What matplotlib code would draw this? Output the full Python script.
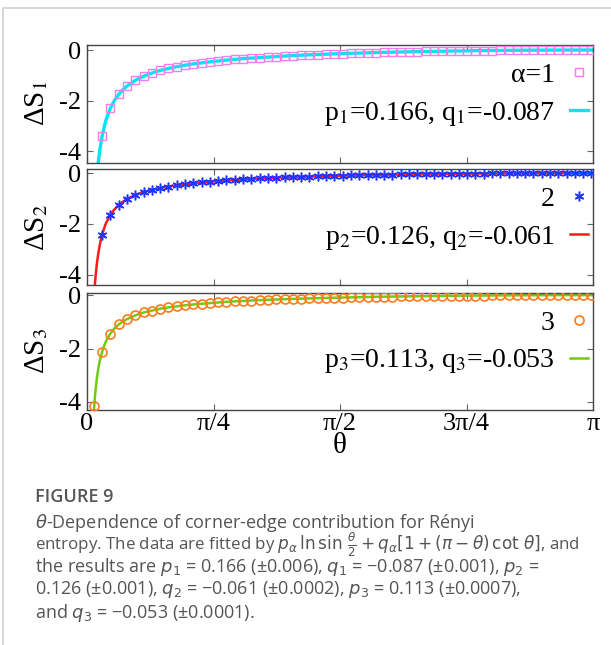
import matplotlib
matplotlib.use("Agg")
import matplotlib.pyplot as plt
import numpy as np
from matplotlib.patches import Rectangle

plt.rcParams['font.family'] = ['Liberation Serif', 'DejaVu Serif']
plt.rcParams['mathtext.fontset'] = 'stix'
plt.rcParams['axes.unicode_minus'] = False

# data points
theta = [0.042, 0.094, 0.145, 0.197, 0.248, 0.300, 0.351, 0.403, 0.454, 0.506,
         0.557, 0.609, 0.660, 0.712, 0.763, 0.815, 0.866, 0.918, 0.969, 1.021,
         1.072, 1.124, 1.175, 1.227, 1.278, 1.330, 1.381, 1.433, 1.484, 1.536,
         1.587, 1.639, 1.690, 1.742, 1.793, 1.845, 1.896, 1.948, 1.999, 2.051,
         2.102, 2.154, 2.205, 2.257, 2.308, 2.360, 2.411, 2.463, 2.514, 2.566,
         2.617, 2.669, 2.720, 2.772, 2.823, 2.875, 2.926, 2.978, 3.029, 3.081,
         3.132]

# alpha = 1 (first point off scale)
s1 = [-3.42, -2.31, -1.76, -1.43, -1.20, -1.04, -0.91, -0.81, -0.73, -0.66,
      -0.60, -0.55, -0.51, -0.47, -0.43, -0.40, -0.37, -0.34, -0.32, -0.30,
      -0.28, -0.26, -0.24, -0.22, -0.21, -0.19, -0.18, -0.165, -0.153, -0.141,
      -0.130, -0.120, -0.110, -0.101, -0.093, -0.085, -0.078, -0.071, -0.064, -0.058,
      -0.051, -0.046, -0.041, -0.036, -0.032, -0.027, -0.024, -0.020, -0.017, -0.014,
      -0.011, -0.009, -0.007, -0.005, -0.004, -0.002, -0.001, -0.001, 0.0, 0.0]
# alpha = 2 (first point off scale)
s2 = [-2.43, -1.64, -1.26, -1.02, -0.86, -0.75, -0.66, -0.59, -0.53, -0.48,
      -0.44, -0.40, -0.37, -0.34, -0.31, -0.29, -0.27, -0.25, -0.23, -0.21,
      -0.20, -0.185, -0.173, -0.160, -0.149, -0.139, -0.129, -0.119, -0.110, -0.102,
      -0.095, -0.087, -0.080, -0.073, -0.068, -0.061, -0.056, -0.051, -0.046, -0.042,
      -0.037, -0.033, -0.030, -0.026, -0.023, -0.020, -0.017, -0.014, -0.012, -0.010,
      -0.008, -0.006, -0.005, -0.004, -0.003, -0.002, -0.001, 0.0, 0.0, 0.0]
# alpha = 3
s3 = [-4.15,
      -2.12, -1.44, -1.10, -0.90, -0.76, -0.65, -0.58, -0.51, -0.46, -0.42,
      -0.38, -0.35, -0.32, -0.30, -0.27, -0.25, -0.235, -0.218, -0.203, -0.189,
      -0.175, -0.163, -0.152, -0.141, -0.132, -0.122, -0.114, -0.105, -0.097, -0.090,
      -0.083, -0.077, -0.070, -0.065, -0.060, -0.055, -0.049, -0.045, -0.041, -0.037,
      -0.032, -0.029, -0.027, -0.023, -0.020, -0.018, -0.015, -0.013, -0.011, -0.009,
      -0.007, -0.005, -0.004, -0.003, -0.002, -0.001, 0.0, 0.0, 0.0, 0.0]

# fitted curves
fit_theta = [0.04, 0.05, 0.06, 0.07, 0.08, 0.0935, 0.11, 0.12, 0.145, 0.17,
             0.1965, 0.22, 0.248, 0.2995, 0.351, 0.4025, 0.454, 0.5055, 0.557, 0.6085,
             0.66, 0.763, 0.866, 0.969, 1.072, 1.175, 1.278, 1.381, 1.484, 1.587,
             1.793, 1.999, 2.205, 2.411, 2.617, 2.823, 3.029, 3.132]
fit1 = [-7.48, -6.07, -5.13, -4.45, -3.94, -3.42, -2.96, -2.73, -2.31, -2.00,
        -1.76, -1.59, -1.43, -1.20, -1.04, -0.91, -0.81, -0.73, -0.66, -0.60,
        -0.55, -0.47, -0.40, -0.34, -0.30, -0.26, -0.22, -0.19, -0.165, -0.141,
        -0.101, -0.071, -0.046, -0.027, -0.014, -0.005, -0.001, 0.0]
fit2 = [-5.28, -4.29, -3.63, -3.16, -2.80, -2.43, -2.10, -1.94, -1.64, -1.43,
        -1.26, -1.14, -1.02, -0.86, -0.75, -0.66, -0.59, -0.53, -0.48, -0.44,
        -0.40, -0.34, -0.29, -0.25, -0.21, -0.185, -0.160, -0.139, -0.119, -0.102,
        -0.073, -0.051, -0.033, -0.020, -0.010, -0.004, -0.0005, 0.0]
fit3 = [-4.60, -3.74, -3.17, -2.75, -2.44, -2.12, -1.84, -1.70, -1.44, -1.25,
        -1.10, -1.00, -0.90, -0.76, -0.65, -0.58, -0.51, -0.46, -0.42, -0.38,
        -0.35, -0.30, -0.25, -0.218, -0.189, -0.163, -0.141, -0.122, -0.105, -0.090,
        -0.065, -0.045, -0.029, -0.018, -0.009, -0.003, 0.0, 0.0]

point_labels = ['α=1', '2', '3']
fit_labels = ['p$_1$=0.166, q$_1$=-0.087',
              'p$_2$=0.126, q$_2$=-0.061',
              'p$_3$=0.113, q$_3$=-0.053']
ylabels = ['ΔS$_1$', 'ΔS$_2$', 'ΔS$_3$']
xtick_pos = [0, np.pi / 4, np.pi / 2, 3 * np.pi / 4, np.pi]
xtick_lab = ['0', 'π/4', 'π/2', '3π/4', 'π']

fig = plt.figure(figsize=(6.11, 6.45), dpi=100)

# card border
fig.patches.append(Rectangle((3 / 611, -0.05), 1.0, 1 - 8 / 645 + 0.05,
                             transform=fig.transFigure, fill=False,
                             edgecolor='#d0d0d0', lw=1.2))

W, H = 611, 645
boxes = [(44.7, 162.7), (169, 285), (292.7, 410)]
ylims = [(-4.46, 0.21), (-4.4, 0.16), (-4.3, 0.09)]
pts = [(theta[1:], s1), (theta[1:], s2), (theta, s3)]
fits = [fit1, fit2, fit3]
styles = [dict(marker='s', ms=6, mfc='none', mec='#f27df2', mew=1.0),
          dict(marker=(6, 2, 0), ms=7, mfc='none', mec='#2233ff', mew=1.1),
          dict(marker='o', ms=6.5, mfc='none', mec='#ff7a1a', mew=1.2)]
line_cols = ['#00e6ee', '#ff1a1a', '#6fcc10']
line_w = [2.4, 1.8, 1.8]

for i in range(3):
    top, bot = boxes[i]
    ax = fig.add_axes([87 / W, 1 - bot / H, (593 - 87) / W, (bot - top) / H])
    x, y = pts[i]
    ax.plot(fit_theta, fits[i], color=line_cols[i], lw=line_w[i], zorder=2,
            label=fit_labels[i])
    ax.plot(x, y, ls='none', zorder=3, label=point_labels[i], **styles[i])
    ax.set_xlim(0, np.pi)
    ax.set_ylim(*ylims[i])
    ax.set_yticks([-4, -2, 0])
    ax.set_xticks(xtick_pos)
    ax.tick_params(direction='in', top=True, right=True, length=4, width=0.8,
                   color='#666666', labelsize=19, pad=4)
    ax.tick_params(axis='x', pad=2)
    if i < 2:
        ax.tick_params(labelbottom=False)
    else:
        ax.set_xticklabels(xtick_lab)
        ax.set_xlabel('θ', fontsize=21, labelpad=-1)
    for sp in ax.spines.values():
        sp.set_color('#444444')
        sp.set_linewidth(1.0)
    ax.set_ylabel(ylabels[i], fontsize=21)
    ax.yaxis.set_label_coords(-0.072, 0.5)
    h, l = ax.get_legend_handles_labels()
    ax.legend(h[::-1], l[::-1], loc='upper right', bbox_to_anchor=(0.99, 0.85),
              markerfirst=False, frameon=False, fontsize=20, handlelength=0.65,
              handletextpad=0.55, labelspacing=0.42, borderaxespad=0, borderpad=0)

# caption
cap_font = ['Open Sans', 'DejaVu Sans']
fig.text(35 / W, 1 - 497 / H, 'FIGURE 9', family=cap_font, fontsize=13,
         weight='semibold', color='#555555', va='center')
cap_lines = [
    r'$\theta$-Dependence of corner-edge contribution for Rényi',
    r'entropy. The data are fitted by $p_\alpha\,\ln\sin\,\frac{\theta}{2} + q_\alpha[1 + (\pi-\theta)\,\cot\,\theta]$, and',
    r'the results are $p_1$ = 0.166 (±0.006), $q_1$ = −0.087 (±0.001), $p_2$ =',
    r'0.126 (±0.001), $q_2$ = −0.061 (±0.0002), $p_3$ = 0.113 (±0.0007),',
    r'and $q_3$ = −0.053 (±0.0001).',
]
cap_sizes = [13, 12.2, 13, 13, 13]
for j, t in enumerate(cap_lines):
    fig.text(35 / W, 1 - (522.5 + 22.5 * j) / H, t, family=cap_font,
             fontsize=cap_sizes[j], color='#555555', va='center',
             math_fontfamily='dejavusans')

fig.savefig('out.png', dpi=100)
